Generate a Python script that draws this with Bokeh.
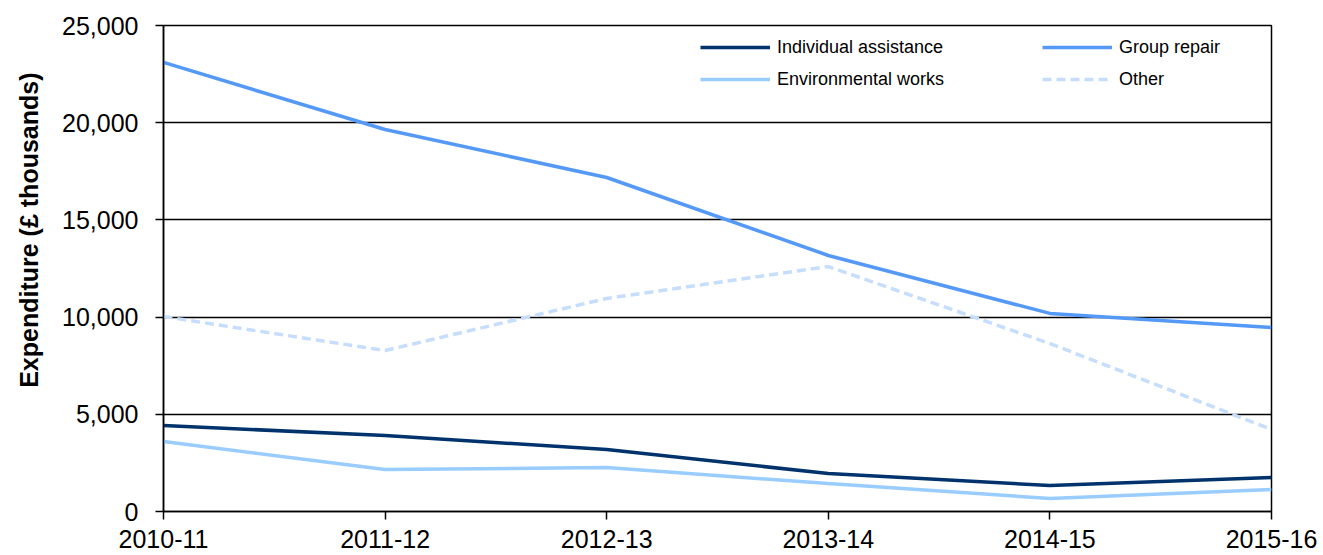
from bokeh.plotting import figure
from bokeh.models import Range1d, FixedTicker, NumeralTickFormatter, Legend, LegendItem, Title
from bokeh.embed import file_html
from bokeh.resources import INLINE

# Housing renewal expenditure by type, £ thousands
years = ["2010-11", "2011-12", "2012-13", "2013-14", "2014-15", "2015-16"]
individual_assistance = [4420, 3910, 3190, 1950, 1340, 1750]
group_repair = [23100, 19650, 17180, 13170, 10190, 9470]
environmental_works = [3600, 2160, 2260, 1440, 670, 1130]
other = [10030, 8280, 10960, 12600, 8640, 4220]
y_ticks = [0, 5000, 10000, 15000, 20000, 25000]

FONT = "Liberation Sans"
xs = list(range(len(years)))

p = figure(width=1323, height=555, output_backend="svg", toolbar_location=None,
           x_range=Range1d(0, len(years) - 1), y_range=Range1d(0, 25000),
           min_border_left=163, min_border_right=52, min_border_top=25, min_border_bottom=44)

p.outline_line_color = "black"
p.outline_line_width = 1.5
p.background_fill_color = "white"
p.border_fill_color = "white"

# gridlines: black horizontal only
p.xgrid.visible = False
p.ygrid.grid_line_color = "black"
p.ygrid.grid_line_width = 1.5
p.ygrid.ticker = FixedTicker(ticks=y_ticks)

# axes
p.xaxis.ticker = FixedTicker(ticks=xs)
p.xaxis.major_label_overrides = {i: y for i, y in enumerate(years)}
p.yaxis.ticker = FixedTicker(ticks=y_ticks)
p.yaxis.formatter = NumeralTickFormatter(format="0,0")
for ax in (p.xaxis, p.yaxis):
    ax.axis_line_color = "black"
    ax.axis_line_width = 1.5
    ax.major_tick_line_color = "black"
    ax.major_tick_line_width = 1.5
    ax.major_tick_in = 0
    ax.major_tick_out = 8
    ax.minor_tick_line_color = None
    ax.major_label_text_font = FONT
    ax.major_label_text_font_size = "25px"
    ax.major_label_text_color = "black"
p.xaxis.major_label_standoff = 10
p.xaxis.major_label_text_line_height = 0.8
p.yaxis.major_label_standoff = 17

# vertical axis title, its top end set a fixed distance below the frame top
ytitle = Title(text="Expenditure (£ thousands)", align="right", offset=47,
               vertical_align="top",
               text_font=FONT, text_font_style="bold", text_font_size="25px",
               text_color="black", standoff=29)
p.add_layout(ytitle, "left")

r_ind = p.line(xs, individual_assistance, line_color="#00336B", line_width=3.5)
r_grp = p.line(xs, group_repair, line_color="#5599F7", line_width=3.5)
r_env = p.line(xs, environmental_works, line_color="#99CCFF", line_width=3.5)
r_oth = p.line(xs, other, line_color="#C6DDFB", line_width=3.5, line_dash="9 5")


def make_legend(items, loc):
    lg = Legend(items=items, location=loc)
    lg.border_line_color = None
    lg.background_fill_alpha = 0
    lg.label_text_font = FONT
    lg.label_text_font_size = "18px"
    lg.label_text_color = "black"
    lg.glyph_width = 70
    lg.glyph_height = 22
    lg.label_height = 22
    lg.spacing = 10
    lg.label_standoff = 7
    lg.margin = 0
    lg.padding = 0
    return lg


legend_left = make_legend([
    LegendItem(label="Individual assistance", renderers=[r_ind]),
    LegendItem(label="Environmental works", renderers=[r_env]),
], (537, 421))
legend_right = make_legend([
    LegendItem(label="Group repair", renderers=[r_grp]),
    LegendItem(label="Other", renderers=[r_oth]),
], (879, 421))
p.add_layout(legend_left, "center")
p.add_layout(legend_right, "center")

open("out.html", "w").write(file_html(p, INLINE))
